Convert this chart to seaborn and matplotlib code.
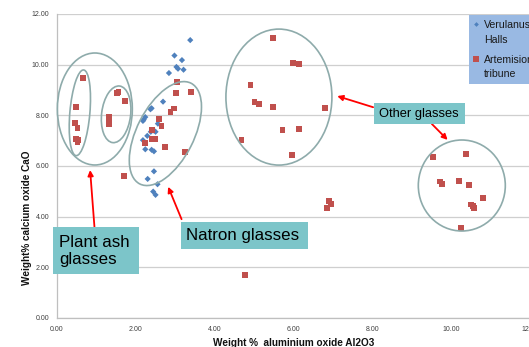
import matplotlib
matplotlib.use("Agg")
import matplotlib.pyplot as plt
from matplotlib.legend_handler import HandlerLine2D
from matplotlib.lines import Line2D
from matplotlib.patches import Ellipse, Rectangle
from matplotlib.ticker import FormatStrFormatter
from matplotlib.transforms import ScaledTranslation
import numpy as np
import pandas as pd
import seaborn as sns

# ---- data -----------------------------------------------------------------
series_names = ["Verulanus Halls", "Artemision tribune"]
legend_labels = ["Verulanus\nHalls", "Artemision\ntribune"]
series_colors = ["#4F81BD", "#C0504D"]

verulanus_al2o3 = [3.38, 2.98, 3.17, 3.03, 3.07, 3.21, 2.84, 2.69, 2.40, 2.37,
                   2.24, 2.20, 2.18, 2.56, 2.46, 2.38, 2.50, 2.29, 2.18, 2.24,
                   2.40, 2.46, 2.46, 2.30, 2.55, 2.44, 2.50]
verulanus_cao = [10.97, 10.36, 10.18, 9.91, 9.84, 9.80, 9.67, 8.54, 8.28, 8.24,
                 7.93, 7.83, 7.78, 7.67, 7.40, 7.35, 7.35, 7.19, 7.02, 6.66,
                 6.64, 6.58, 5.79, 5.49, 5.28, 4.99, 4.86]

artemision_al2o3 = [0.67, 0.48, 0.46, 0.52, 0.48, 0.53, 0.52,
                    1.32, 1.33, 1.33, 1.53, 1.56, 1.72, 1.70,
                    2.23, 2.40, 2.40, 2.50, 2.58, 2.65, 2.73, 2.88, 2.97, 3.03,
                    3.04, 3.39, 3.25,
                    4.68, 4.91, 5.01, 5.13, 5.48, 5.98, 6.13, 5.49, 6.80, 5.72,
                    6.13, 5.96, 6.90, 6.95, 6.86, 4.78,
                    9.54, 10.37, 9.72, 9.76, 10.21, 10.45, 10.81, 10.51, 10.55,
                    10.57, 10.25]
artemision_cao = [9.49, 8.34, 7.69, 7.50, 7.06, 7.02, 6.93,
                  7.94, 7.72, 7.66, 8.88, 8.93, 8.55, 5.59,
                  6.90, 7.43, 7.08, 7.07, 7.85, 7.59, 6.74, 8.12, 8.27, 8.88,
                  9.30, 8.91, 6.56,
                  7.02, 9.18, 8.53, 8.44, 11.06, 10.07, 10.02, 8.33, 8.30, 7.43,
                  7.46, 6.43, 4.62, 4.49, 4.33, 1.70,
                  6.36, 6.47, 5.39, 5.30, 5.42, 5.24, 4.74, 4.48, 4.42,
                  4.35, 3.55]

axis_ticks = [0, 2, 4, 6, 8, 10, 12]
x_label = "Weight %  aluminium oxide Al2O3"
y_label = "Weight% calcium oxide CaO"

df = pd.concat([
    pd.DataFrame({"al2o3": verulanus_al2o3, "cao": verulanus_cao,
                  "site": series_names[0]}),
    pd.DataFrame({"al2o3": artemision_al2o3, "cao": artemision_cao,
                  "site": series_names[1]}),
], ignore_index=True)


class FirstLineHandler(HandlerLine2D):
    """Legend marker lifted to sit beside the first line of a wrapped label."""

    def __init__(self, lift, **kwargs):
        super().__init__(**kwargs)
        self.lift = lift

    def create_artists(self, legend, orig_handle, xdescent, ydescent, width,
                       height, fontsize, trans):
        artists = super().create_artists(legend, orig_handle, xdescent,
                                         ydescent, width, height, fontsize,
                                         trans)
        for art in artists:
            art.set_ydata(np.asarray(art.get_ydata()) + self.lift * fontsize)
        return artists


# ---- style ----------------------------------------------------------------
sns.set_style("white")
plt.rcParams["font.family"] = ["Liberation Sans", "DejaVu Sans"]

fig = plt.figure(figsize=(5.29, 3.47), dpi=100)
ax = fig.add_axes([57 / 529, 29 / 347, 473 / 529, 304 / 347])

sns.scatterplot(
    data=df, x="al2o3", y="cao", hue="site", style="site", size="site",
    hue_order=series_names, style_order=series_names, size_order=series_names,
    palette=dict(zip(series_names, series_colors)),
    markers={series_names[0]: "D", series_names[1]: "s"},
    sizes={series_names[0]: 10, series_names[1]: 18},
    linewidth=0, legend=False, ax=ax, zorder=3,
)

ax.set_xlim(0, 12)
ax.set_ylim(0, 12)
ax.set_xticks(axis_ticks)
ax.set_yticks(axis_ticks)
ax.xaxis.set_major_formatter(FormatStrFormatter("%.2f"))
ax.yaxis.set_major_formatter(FormatStrFormatter("%.2f"))
ax.tick_params(axis="both", labelsize=5, labelcolor="#404040", color="#BFBFBF",
               length=3, width=0.8, direction="out", pad=3)
ax.tick_params(axis="y", pad=2.5)
ax.yaxis.grid(True, color="#CFCFCF", linewidth=0.9)
ax.xaxis.grid(False)
for side in ("top", "right"):
    ax.spines[side].set_visible(False)
for side in ("left", "bottom"):
    ax.spines[side].set_color("#BFBFBF")
    ax.spines[side].set_linewidth(0.9)

ax.set_xlabel(x_label, fontsize=7.2, fontweight="bold", color="#111111")
ax.set_ylabel(y_label, fontsize=7.2, fontweight="bold", color="#111111")
ax.xaxis.set_label_coords(0.501, -0.065)
ax.yaxis.set_label_coords(-0.053, 0.329)

# ---- group outlines (size in pixels, anchored at a data point) -------------
outline_color = "#8EABAB"
groups = [
    # (centre x, centre y, width px, height px, angle deg)
    (0.96, 8.25, 75, 112, 0),
    (0.58, 8.10, 86, 20, 85),
    (1.50, 8.04, 57, 29, 83),
    (2.75, 7.28, 113, 57, 63),
    (5.63, 8.72, 106, 136, 0),
    (10.27, 5.23, 87, 91, 0),
]
for cx, cy, w, h, ang in groups:
    ax.add_patch(Ellipse(
        (0, 0), w / 100, h / 100, angle=ang, fill=False,
        edgecolor=outline_color, linewidth=1.2, zorder=4, clip_on=False,
        transform=fig.dpi_scale_trans + ScaledTranslation(cx, cy, ax.transData),
    ))

# ---- callout boxes and arrows ----------------------------------------------
box_color = "#7CC5C9"
callouts = [
    # (text, x0, y0, x1, y1, text x, text y, font size)
    ("Plant ash\nglasses", -0.11, 1.73, 2.08, 3.60, 0.05, 2.66, 12.2),
    ("Natron glasses", 3.14, 2.72, 6.36, 3.80, 3.27, 3.27, 12.2),
    ("Other glasses", 8.04, 7.66, 10.36, 8.48, 8.17, 8.07, 9.3),
]
for text, x0, y0, x1, y1, tx, ty, fs in callouts:
    ax.add_patch(Rectangle((x0, y0), x1 - x0, y1 - y0, facecolor=box_color,
                           edgecolor="none", zorder=6, clip_on=False))
    ax.text(tx, ty, text, fontsize=fs, color="black", ha="left", va="center",
            linespacing=1.15, zorder=7, clip_on=False)

arrows = [
    # (tail, tip)
    ((0.95, 3.60), (0.84, 5.84)),
    ((3.16, 3.90), (2.82, 5.18)),
    ((8.02, 8.32), (7.11, 8.76)),
    ((9.51, 7.66), (9.91, 7.03)),
]
for tail, tip in arrows:
    ax.annotate("", xy=tip, xytext=tail, annotation_clip=False, zorder=5,
                arrowprops=dict(arrowstyle="-|>", color="#FF0000", lw=1.3,
                                mutation_scale=8, shrinkA=0, shrinkB=0))

# ---- legend ------------------------------------------------------------------
handles = [
    Line2D([], [], linestyle="none", marker="D", markersize=2.4,
           markerfacecolor=series_colors[0], markeredgewidth=0),
    Line2D([], [], linestyle="none", marker="s", markersize=3.8,
           markerfacecolor=series_colors[1], markeredgewidth=0),
]
leg = ax.legend(handles, legend_labels, loc="upper left",
                bbox_to_anchor=(469 / 529, (347 - 15) / 347),
                bbox_transform=fig.transFigure, frameon=True, fancybox=False,
                facecolor="#99B9E3", edgecolor="none", framealpha=1,
                fontsize=7.6, handlelength=0.5, handletextpad=0.5,
                labelspacing=0.95, borderpad=0.45, borderaxespad=0,
                handler_map={Line2D: FirstLineHandler(lift=0.76)})
for t in leg.get_texts():
    t.set_linespacing(1.6)
    t.set_color("#1A1A1A")
leg.set_zorder(8)

fig.savefig("out.png", dpi=100)
